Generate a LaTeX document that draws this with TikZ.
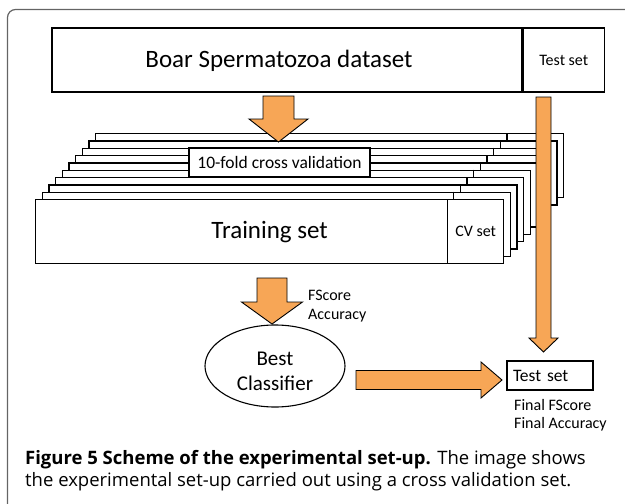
\documentclass[tikz,border=0pt]{standalone}
\usepackage{fontspec}
\setmainfont{Carlito}
\newfontfamily\capfont{Open Sans}
\usetikzlibrary{positioning,shapes.geometric}
\definecolor{arroworange}{RGB}{247,166,86}
\definecolor{framegray}{RGB}{100,100,100}
\tikzset{
  box/.style={draw, line width=1.3pt, fill=white, inner sep=0pt},
  bigarrow/.style={draw=black, line width=0.9pt, fill=arroworange, line join=miter},
  small/.style={font=\fontsize{16}{18.5}\selectfont, align=left, inner sep=0pt}
}
\newcommand{\fatarrow}[6]{%
  \begin{scope}[shift={#1}, rotate=#2]
    \draw[bigarrow] (0,#4) -- (#3-#6,#4) -- (#3-#6,#5) -- (#3,0)
      -- (#3-#6,-#5) -- (#3-#6,-#4) -- (0,-#4) -- cycle;
  \end{scope}}

\begin{document}
\begin{tikzpicture}[x=1pt, y=-1pt]
  \useasboundingbox (0,0) rectangle (625,504);
  \clip (0,0) rectangle (625,504);
  \draw[framegray, line width=1.2pt, rounded corners=8pt] (7.5,9.5) rectangle (660,540);

  \node[box, minimum width=470pt, minimum height=64pt] (dataset) at (287,60) {};
  \node[font=\fontsize{25}{25}\selectfont] (datasettext) at (279,61) {Boar Spermatozoa dataset};
  \node[box, minimum width=81pt, minimum height=64pt, anchor=west, font=\fontsize{16}{16}\selectfont] (testtop) at (dataset.east) {Test set};

  \foreach \i in {9,...,1}{
    \node[box, minimum width=468pt, minimum height=64pt, anchor=north west] (fold\i) at (35+6.67*\i, 199-7.33*\i) {};
    \draw[line width=1.3pt] ([xshift=412pt]fold\i.north west) -- ([xshift=412pt]fold\i.south west);
  }
  \node[box, minimum width=181pt, minimum height=29pt, font=\fontsize{17.5}{17.5}\selectfont] (crossval) at (279.5,162.5) {10-fold cross validation};
  \fatarrow{(278.5,96)}{-90}{46}{15.5}{29.5}{23}

  \node[box, minimum width=468pt, minimum height=64pt, anchor=north west, font=\fontsize{25}{25}\selectfont] (training) at (35,199) {Training set};
  \node[box, minimum width=56pt, minimum height=64pt, anchor=north east, font=\fontsize{16}{16}\selectfont] (cvset) at (training.north east) {CV set};

  \fatarrow{(543.5,97)}{-90}{255}{7.5}{14.5}{14}
  \fatarrow{(272,278)}{-90}{46}{15}{30.5}{22}
  \node[small, anchor=north west] (scores) at (308,290) {FScore\\Accuracy};

  \node[ellipse, draw, line width=1.1pt, minimum width=140pt, minimum height=82pt, inner sep=0pt] (best) at (275,366) {};
  \node[align=center, inner sep=0pt, font=\fontsize{21}{25}\selectfont] (besttext) at (275,371) {Best\\Classifier};
  \fatarrow{(356,380)}{0}{146}{9.5}{18}{21}

  \node[box, line width=1.1pt, minimum width=86pt, minimum height=29pt, text width=74pt, inner xsep=6pt, align=left, font=\fontsize{17.5}{17.5}\selectfont] (testbottom) at (550,375.5) {Test set};
  \node[small, anchor=north west] (final) at (514,399) {Final FScore\\Final Accuracy};

  \node[anchor=base west, align=left, inner sep=0pt, font=\capfont\fontsize{18.5}{22}\selectfont] (caption) at (25,486)
    {\textbf{Figure 5 Scheme of the experimental set-up.} The image shows\\the experimental set-up carried out using a cross validation set.};
\end{tikzpicture}
\end{document}
